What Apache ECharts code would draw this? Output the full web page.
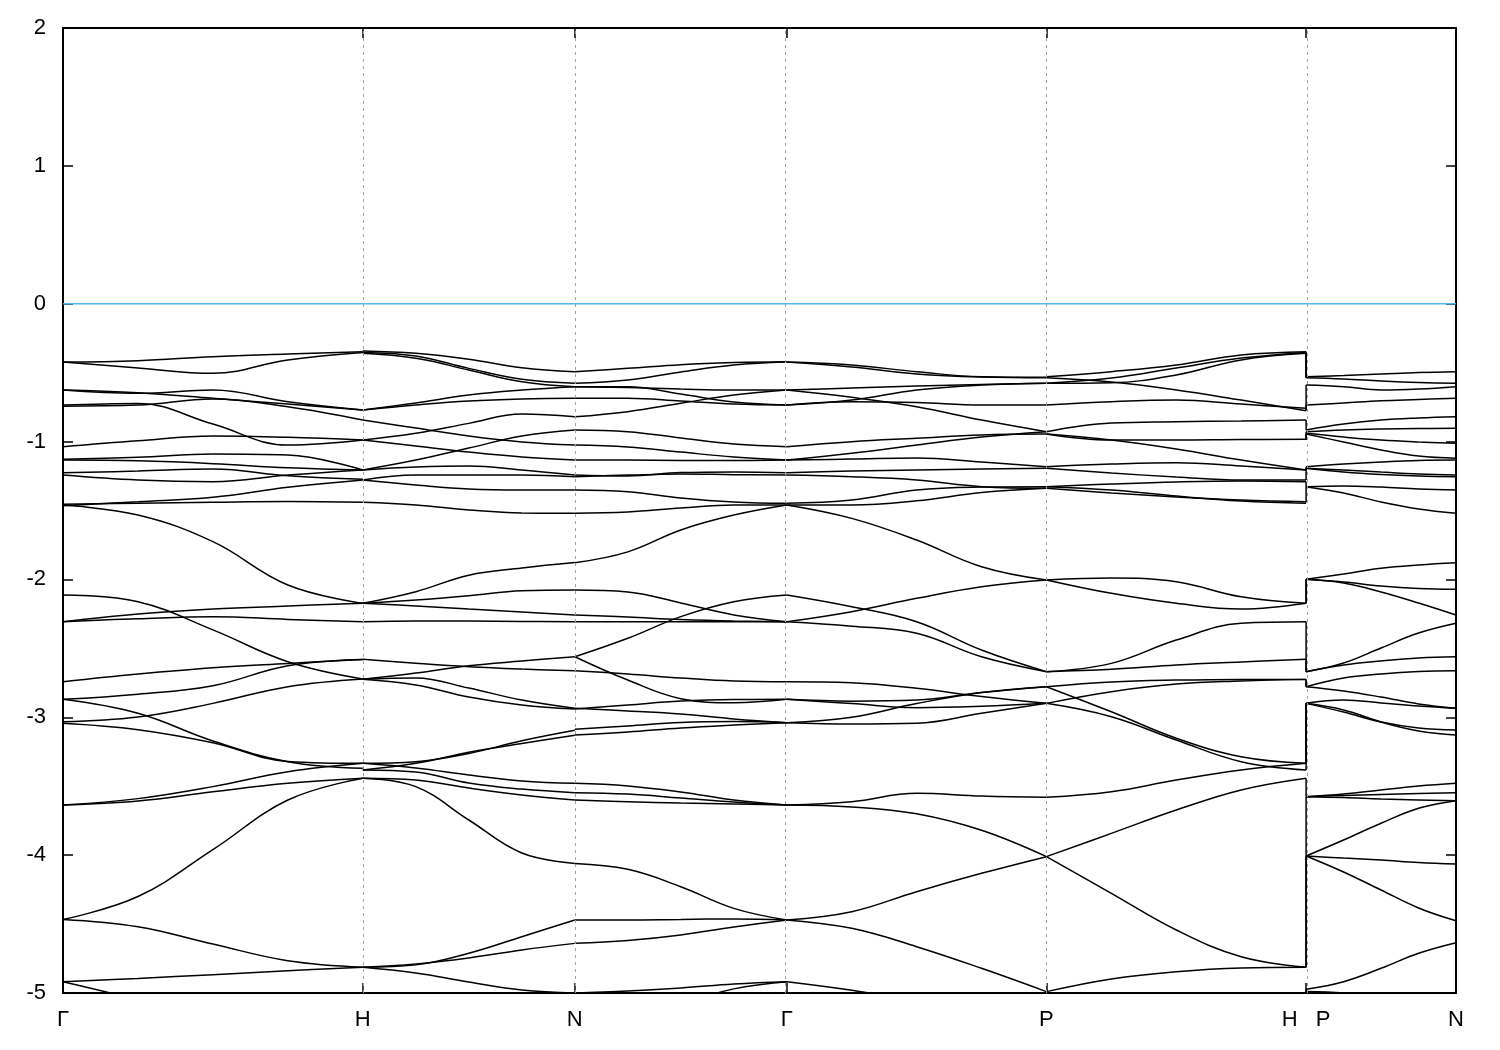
<!DOCTYPE html>
<html><head><meta charset="utf-8">
<script src="https://cdn.jsdelivr.net/npm/echarts@6/dist/echarts.min.js"></script>
<style>html,body{margin:0;padding:0;background:#fff;}#chart{width:1500px;height:1050px;}</style>
</head><body><div id="chart"></div>
<script>
// High-symmetry points along the k-path (Γ H N Γ P H|P N), in path-length units
const kPoints = [0, 1, 1.7071, 2.4142, 3.2802, 4.1463, 4.6463];
const kLabels = ['Γ', 'H', 'N', 'Γ', 'P', 'H   P', 'N'];
const yTicks = [-5, -4, -3, -2, -1, 0, 1, 2];
const fermiLevel = 0;

// Band energies (eV), sampled at 5 equally spaced points along each path segment
const bandsGH = [
 [-0.423,-0.413,-0.384,-0.365,-0.348],
 [-0.423,-0.466,-0.505,-0.408,-0.353],
 [-0.626,-0.650,-0.626,-0.711,-0.771],
 [-0.626,-0.646,-0.686,-0.728,-0.771],
 [-0.743,-0.735,-0.691,-0.747,-0.844],
 [-0.735,-0.723,-0.873,-1.025,-0.989],
 [-1.037,-0.994,-0.960,-0.969,-0.989],
 [-1.129,-1.114,-1.090,-1.098,-1.206],
 [-1.134,-1.140,-1.160,-1.190,-1.206],
 [-1.226,-1.214,-1.199,-1.248,-1.274],
 [-1.243,-1.279,-1.291,-1.243,-1.206],
 [-1.455,-1.447,-1.440,-1.435,-1.440],
 [-1.465,-1.436,-1.404,-1.332,-1.279],
 [-1.461,-1.533,-1.726,-2.040,-2.173],
 [-2.113,-2.162,-2.366,-2.597,-2.722],
 [-2.307,-2.251,-2.215,-2.193,-2.173],
 [-2.307,-2.285,-2.270,-2.290,-2.307],
 [-2.742,-2.686,-2.640,-2.609,-2.580],
 [-2.870,-2.833,-2.771,-2.626,-2.580],
 [-3.032,-2.998,-2.899,-2.778,-2.722],
 [-2.870,-2.971,-3.172,-3.322,-3.370],
 [-3.043,-3.090,-3.185,-3.320,-3.334],
 [-3.636,-3.607,-3.540,-3.479,-3.442],
 [-3.636,-3.590,-3.503,-3.395,-3.334],
 [-4.466,-4.300,-3.960,-3.600,-3.442],
 [-4.466,-4.519,-4.645,-4.766,-4.813],
 [-4.918,-4.894,-4.867,-4.838,-4.813],
 [-4.918,-5.050,-5.200,-5.300,-5.350]
];
const bandsHN = [
 [-0.343,-0.360,-0.403,-0.464,-0.493],
 [-0.353,-0.379,-0.469,-0.548,-0.577],
 [-0.360,-0.396,-0.481,-0.566,-0.602],
 [-0.771,-0.720,-0.662,-0.626,-0.602],
 [-0.771,-0.735,-0.706,-0.691,-0.686],
 [-0.844,-0.902,-0.960,-1.003,-1.025],
 [-0.989,-0.940,-0.868,-0.800,-0.820],
 [-0.989,-1.032,-1.076,-1.112,-1.134],
 [-1.206,-1.134,-1.047,-0.960,-0.916],
 [-1.206,-1.185,-1.177,-1.206,-1.243],
 [-1.279,-1.243,-1.243,-1.243,-1.255],
 [-1.279,-1.315,-1.344,-1.351,-1.351],
 [-1.441,-1.460,-1.496,-1.518,-1.520],
 [-2.173,-2.089,-1.969,-1.917,-1.877],
 [-2.173,-2.193,-2.215,-2.236,-2.258],
 [-2.173,-2.149,-2.118,-2.082,-2.077],
 [-2.307,-2.302,-2.302,-2.305,-2.307],
 [-2.579,-2.608,-2.633,-2.650,-2.662],
 [-2.724,-2.679,-2.626,-2.592,-2.561],
 [-2.724,-2.715,-2.788,-2.875,-2.935],
 [-2.724,-2.766,-2.853,-2.911,-2.940],
 [-3.334,-3.322,-3.262,-3.170,-3.094],
 [-3.382,-3.334,-3.253,-3.190,-3.131],
 [-3.334,-3.368,-3.419,-3.462,-3.479],
 [-3.382,-3.397,-3.477,-3.521,-3.547],
 [-3.442,-3.455,-3.513,-3.563,-3.600],
 [-3.442,-3.503,-3.745,-3.984,-4.060],
 [-4.813,-4.796,-4.712,-4.592,-4.470],
 [-4.813,-4.790,-4.746,-4.688,-4.640],
 [-4.813,-4.855,-4.920,-4.978,-5.000]
];
const bandsNG = [
 [-0.493,-0.469,-0.442,-0.427,-0.421],
 [-0.577,-0.553,-0.495,-0.445,-0.421],
 [-0.602,-0.602,-0.655,-0.713,-0.735],
 [-0.602,-0.608,-0.619,-0.626,-0.626],
 [-0.686,-0.686,-0.706,-0.728,-0.735],
 [-0.820,-0.783,-0.722,-0.662,-0.626],
 [-0.916,-0.928,-0.974,-1.018,-1.037],
 [-1.025,-1.039,-1.076,-1.112,-1.134],
 [-1.134,-1.134,-1.137,-1.137,-1.134],
 [-1.243,-1.250,-1.225,-1.220,-1.226],
 [-1.255,-1.243,-1.235,-1.240,-1.243],
 [-1.351,-1.364,-1.409,-1.438,-1.448],
 [-1.520,-1.511,-1.482,-1.460,-1.460],
 [-1.879,-1.800,-1.641,-1.533,-1.460],
 [-2.077,-2.091,-2.171,-2.258,-2.307],
 [-2.258,-2.273,-2.291,-2.302,-2.307],
 [-2.307,-2.307,-2.307,-2.307,-2.307],
 [-2.561,-2.427,-2.270,-2.162,-2.113],
 [-2.561,-2.730,-2.865,-2.895,-2.870],
 [-2.662,-2.686,-2.715,-2.737,-2.742],
 [-2.940,-2.911,-2.882,-2.871,-2.870],
 [-2.935,-2.954,-2.976,-3.012,-3.039],
 [-3.087,-3.063,-3.038,-3.031,-3.039],
 [-3.128,-3.106,-3.077,-3.056,-3.039],
 [-3.479,-3.498,-3.542,-3.600,-3.636],
 [-3.547,-3.557,-3.586,-3.615,-3.636],
 [-3.600,-3.612,-3.622,-3.629,-3.636],
 [-4.060,-4.103,-4.229,-4.386,-4.470],
 [-4.470,-4.470,-4.466,-4.463,-4.470],
 [-4.640,-4.619,-4.579,-4.521,-4.470],
 [-5.000,-4.985,-4.964,-4.935,-4.918],
 [-5.300,-5.200,-5.080,-4.970,-4.918]
];
const bandsGP = [
 [-0.423,-0.445,-0.493,-0.530,-0.534],
 [-0.423,-0.459,-0.510,-0.532,-0.537],
 [-0.626,-0.679,-0.747,-0.844,-0.928],
 [-0.626,-0.612,-0.597,-0.586,-0.577],
 [-0.735,-0.699,-0.626,-0.590,-0.577],
 [-0.735,-0.711,-0.717,-0.735,-0.735],
 [-1.037,-1.001,-0.976,-0.952,-0.945],
 [-1.134,-1.085,-1.025,-0.967,-0.928],
 [-1.134,-1.127,-1.119,-1.148,-1.182],
 [-1.226,-1.214,-1.206,-1.199,-1.194],
 [-1.243,-1.255,-1.279,-1.327,-1.339],
 [-1.448,-1.424,-1.351,-1.330,-1.327],
 [-1.460,-1.460,-1.430,-1.370,-1.339],
 [-1.460,-1.557,-1.714,-1.908,-2.004],
 [-2.113,-2.198,-2.307,-2.512,-2.669],
 [-2.307,-2.234,-2.137,-2.053,-2.004],
 [-2.307,-2.339,-2.391,-2.561,-2.669],
 [-2.742,-2.750,-2.790,-2.850,-2.899],
 [-2.870,-2.883,-2.875,-2.820,-2.778],
 [-2.870,-2.900,-2.930,-2.920,-2.899],
 [-3.039,-3.048,-3.043,-2.971,-2.899],
 [-3.039,-3.000,-2.900,-2.820,-2.778],
 [-3.636,-3.612,-3.551,-3.571,-3.580],
 [-3.636,-3.650,-3.700,-3.820,-4.011],
 [-4.470,-4.410,-4.265,-4.132,-4.011],
 [-4.470,-4.531,-4.664,-4.821,-4.990],
 [-4.918,-4.980,-5.060,-5.150,-5.200]
];
const bandsPH = [
 [-0.530,-0.493,-0.445,-0.372,-0.348],
 [-0.537,-0.568,-0.626,-0.699,-0.776],
 [-0.577,-0.573,-0.517,-0.408,-0.360],
 [-0.577,-0.539,-0.466,-0.394,-0.353],
 [-0.735,-0.711,-0.699,-0.728,-0.759],
 [-0.928,-0.865,-0.856,-0.851,-0.844],
 [-0.945,-0.989,-0.989,-0.985,-0.984],
 [-0.945,-0.989,-1.054,-1.134,-1.206],
 [-1.182,-1.163,-1.153,-1.177,-1.206],
 [-1.194,-1.228,-1.257,-1.279,-1.279],
 [-1.327,-1.308,-1.293,-1.286,-1.291],
 [-1.339,-1.373,-1.402,-1.424,-1.436],
 [-1.327,-1.351,-1.395,-1.431,-1.448],
 [-2.004,-1.990,-2.017,-2.126,-2.173],
 [-2.004,-2.101,-2.173,-2.215,-2.173],
 [-2.669,-2.609,-2.440,-2.318,-2.307],
 [-2.669,-2.652,-2.621,-2.599,-2.579],
 [-2.778,-2.744,-2.730,-2.725,-2.725],
 [-2.899,-2.814,-2.759,-2.737,-2.725],
 [-2.778,-2.960,-3.152,-3.286,-3.334],
 [-2.899,-2.996,-3.165,-3.322,-3.382],
 [-3.580,-3.540,-3.455,-3.382,-3.334],
 [-4.011,-3.842,-3.673,-3.527,-3.442],
 [-4.011,-4.277,-4.543,-4.737,-4.813],
 [-4.990,-4.898,-4.845,-4.818,-4.813]
];
const bandsPN = [
 [-0.530,-0.521,-0.510,-0.499,-0.493],
 [-0.537,-0.546,-0.561,-0.572,-0.577],
 [-0.590,-0.602,-0.626,-0.619,-0.602],
 [-0.735,-0.720,-0.704,-0.695,-0.686],
 [-0.916,-0.873,-0.844,-0.829,-0.820],
 [-0.928,-0.916,-0.909,-0.905,-0.904],
 [-0.940,-0.967,-0.989,-1.003,-1.013],
 [-0.945,-1.003,-1.061,-1.105,-1.121],
 [-1.182,-1.163,-1.148,-1.137,-1.134],
 [-1.194,-1.206,-1.221,-1.235,-1.243],
 [-1.194,-1.221,-1.239,-1.250,-1.255],
 [-1.327,-1.322,-1.330,-1.344,-1.351],
 [-1.327,-1.373,-1.438,-1.489,-1.520],
 [-1.999,-1.961,-1.919,-1.895,-1.879],
 [-1.999,-2.019,-2.048,-2.066,-2.072],
 [-1.999,-2.026,-2.091,-2.171,-2.258],
 [-2.669,-2.606,-2.497,-2.389,-2.318],
 [-2.669,-2.621,-2.592,-2.570,-2.561],
 [-2.778,-2.715,-2.686,-2.668,-2.662],
 [-2.778,-2.809,-2.853,-2.903,-2.935],
 [-2.899,-2.875,-2.896,-2.918,-2.935],
 [-2.899,-2.962,-3.034,-3.077,-3.092],
 [-2.899,-2.947,-3.034,-3.099,-3.128],
 [-3.576,-3.557,-3.528,-3.499,-3.479],
 [-3.576,-3.567,-3.560,-3.553,-3.547],
 [-3.576,-3.582,-3.593,-3.600,-3.605],
 [-4.006,-3.890,-3.769,-3.660,-3.605],
 [-4.006,-4.021,-4.035,-4.053,-4.064],
 [-4.006,-4.122,-4.253,-4.383,-4.476],
 [-4.973,-4.918,-4.821,-4.712,-4.635],
 [-4.990,-5.000,-5.020,-5.050,-5.080]
];
// Band-by-band jump at the H|P discontinuity: [energy at H, energy at P]
const jumpHP = [
 [-0.348,-0.530],[-0.353,-0.537],[-0.360,-0.537],[-0.771,-0.590],[-0.776,-0.735],
 [-0.844,-0.916],[-0.984,-0.928],[-0.989,-0.945],[-1.206,-1.182],[-1.206,-1.194],
 [-1.279,-1.194],[-1.291,-1.327],[-1.441,-1.327],[-2.173,-1.999],[-2.173,-1.999],
 [-2.307,-2.669],[-2.579,-2.669],[-2.725,-2.778],[-2.725,-2.778],[-3.334,-2.899],
 [-3.334,-2.899],[-3.382,-2.899],[-3.442,-3.576],[-4.813,-3.576],[-4.813,-4.006],
 [-5.200,-4.973],[-5.300,-4.990]
];

// Segment -> (start point index, end point index, bands)
const segments = [
  [0, 1, bandsGH], [1, 2, bandsHN], [2, 3, bandsNG],
  [3, 4, bandsGP], [4, 5, bandsPH], [5, 6, bandsPN]
];

const FONT = 'Liberation Sans, Arial, sans-serif';
const bandStyle = { color: '#000', width: 1.5 };
const series = [];

// Fermi level + dotted vertical grid lines at the high-symmetry points
series.push({
  type: 'line', data: [[kPoints[0], fermiLevel], [kPoints[kPoints.length - 1], fermiLevel]],
  symbol: 'none', silent: true, z: 1,
  lineStyle: { color: '#56b4e9', width: 1.5 },
  markLine: {
    silent: true, symbol: 'none', label: { show: false },
    lineStyle: { color: '#a0a0a0', width: 1, type: [3, 4] },
    data: kPoints.slice(1, -1).map(v => ({ xAxis: v }))
  }
});

segments.forEach(([a, b, bands]) => {
  const x0 = kPoints[a], x1 = kPoints[b];
  bands.forEach(curve => {
    const n = curve.length;
    series.push({
      type: 'line', symbol: 'none', silent: true, z: 3,
      smooth: 0.4, clip: true, lineStyle: bandStyle,
      data: curve.map((e, i) => [x0 + (x1 - x0) * i / (n - 1), e])
    });
  });
});

jumpHP.forEach(([eH, eP]) => {
  series.push({
    type: 'line', symbol: 'none', silent: true, z: 3, clip: true, lineStyle: bandStyle,
    data: [[kPoints[5], eH], [kPoints[5], eP]]
  });
});

const labelFor = v => {
  const i = kPoints.findIndex(p => Math.abs(p - v) < 1e-6);
  return i >= 0 ? kLabels[i] : '';
};

const axisLine = { show: true, onZero: false, lineStyle: { color: '#000', width: 2 } };
const tick = { show: true, inside: true, length: 10, lineStyle: { color: '#000', width: 1.5 } };

const chart = echarts.init(document.getElementById('chart'), null, { renderer: 'canvas' });
chart.setOption({
  animation: false,
  backgroundColor: '#fff',
  grid: { left: 63, right: 44, top: 28, bottom: 57, containLabel: false },
  xAxis: [
    { type: 'value', min: kPoints[0], max: kPoints[kPoints.length - 1], position: 'bottom',
      axisLine, axisTick: Object.assign({ customValues: kPoints }, tick),
      axisLabel: { customValues: kPoints, formatter: labelFor, color: '#000', fontSize: 22, fontFamily: FONT, margin: 16 },
      splitLine: { show: false } },
    { type: 'value', min: kPoints[0], max: kPoints[kPoints.length - 1], position: 'top',
      axisLine, axisTick: Object.assign({ customValues: kPoints }, tick),
      axisLabel: { show: false }, splitLine: { show: false } }
  ],
  yAxis: [
    { type: 'value', min: yTicks[0], max: yTicks[yTicks.length - 1], interval: 1, position: 'left',
      axisLine, axisTick: tick,
      axisLabel: { color: '#000', fontSize: 22, fontFamily: FONT, margin: 17 },
      splitLine: { show: false } },
    { type: 'value', min: yTicks[0], max: yTicks[yTicks.length - 1], interval: 1, position: 'right',
      axisLine, axisTick: tick, axisLabel: { show: false }, splitLine: { show: false } }
  ],
  series
});
</script></body></html>
